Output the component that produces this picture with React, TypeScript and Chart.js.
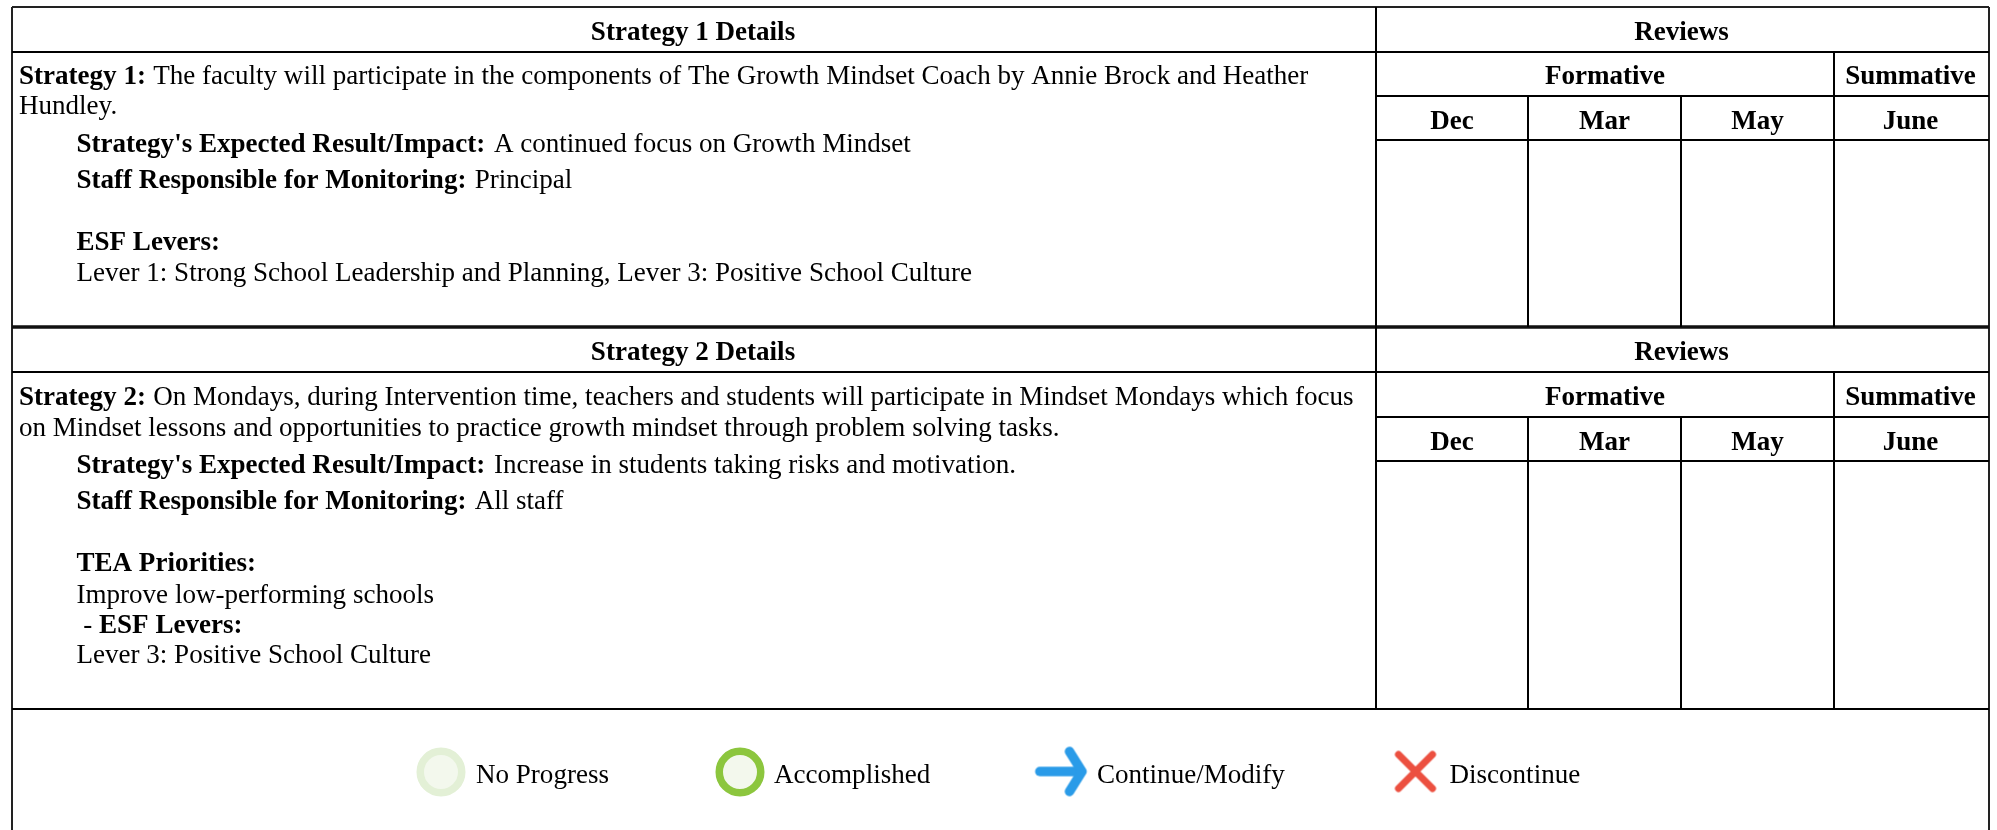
import React, { useEffect, useRef } from "react";
import { Chart, registerables } from "chart.js";

Chart.register(...registerables);

// ---- content ----
const strategyHeaders = ["Strategy 1 Details", "Strategy 2 Details"];
const reviewHeader = "Reviews";
const reviewGroups = ["Formative", "Summative"];
const reviewMonths = ["Dec", "Mar", "May", "June"];
const legendLabels = ["No Progress", "Accomplished", "Continue/Modify", "Discontinue"];

type Run = [string, boolean];
const strategyOneLines: Run[][] = [
  [["Strategy 1: ", true], ["The faculty will participate in the components of The Growth Mindset Coach by Annie Brock and Heather", false]],
  [["Hundley.", false]],
  [["Strategy's Expected Result/Impact: ", true], ["A continued focus on Growth Mindset", false]],
  [["Staff Responsible for Monitoring: ", true], ["Principal", false]],
  [["ESF Levers:", true]],
  [["Lever 1: Strong School Leadership and Planning, Lever 3: Positive School Culture", false]],
];
const strategyTwoLines: Run[][] = [
  [["Strategy 2: ", true], ["On Mondays, during Intervention time, teachers and students will participate in Mindset Mondays which focus", false]],
  [["on Mindset lessons and opportunities to practice growth mindset through problem solving tasks.", false]],
  [["Strategy's Expected Result/Impact: ", true], ["Increase in students taking risks and motivation.", false]],
  [["Staff Responsible for Monitoring: ", true], ["All staff", false]],
  [["TEA Priorities:", true]],
  [["Improve low-performing schools", false]],
  [[" - ", false], ["ESF Levers:", true]],
  [["Lever 3: Positive School Culture", false]],
];

// ---- table geometry, in the units of the two scales ----
const leftEdge = 12;
const detailEdge = 1376;
const monthEdges = [1376, 1528, 1681, 1834, 1989];
const tableRows = [
  { top: 7, head: 52, group: 96, month: 140, bottom: 327 },
  { top: 327, head: 372, group: 417, month: 461, bottom: 709 },
];
const pageBottom = 830;
const strategyOneIndents = [19, 19, 76.5, 76.5, 76.5, 76.5];
const strategyOneBaselines = [84, 114, 152, 188, 250, 281];
const strategyOneGaps = [0.5, 0, 2, 1.5, 0, 0];
const strategyTwoIndents = [19, 19, 76.5, 76.5, 76.5, 76.5, 76.5, 76.5];
const strategyTwoBaselines = [405, 436, 473, 509, 571, 603, 633, 663];
const strategyTwoGaps = [0.5, 0, 2, 1.5, 0, 0, 0, 0];
const legendMarkerX = [441, 740, 1061.5, 1415.5];
const legendMarkerY = [772, 772, 771.5, 771.5];
const legendLabelX = [476, 774, 1097, 1449.5];
const legendBaseline = 783;

const FONT = '"Liberation Serif", "Times New Roman", serif';
const SIZE = 27.06;

function rule(x1: number, y1: number, x2: number, y2: number, width = 2, color = "#000000") {
  return {
    data: [{ x: x1, y: y1 }, { x: x2, y: y2 }],
    showLine: true,
    borderColor: color,
    borderWidth: width,
    pointRadius: 0,
    fill: false,
  };
}

function buildRules() {
  const out: any[] = [];
  tableRows.forEach((r, i) => {
    out.push(rule(leftEdge, r.head, monthEdges[4], r.head));
    out.push(rule(detailEdge, r.group, monthEdges[4], r.group));
    out.push(rule(detailEdge, r.month, monthEdges[4], r.month));
    out.push(rule(detailEdge, r.top, detailEdge, r.bottom));
    out.push(rule(monthEdges[3], r.head, monthEdges[3], r.bottom));
    out.push(rule(monthEdges[1], r.group, monthEdges[1], r.bottom));
    out.push(rule(monthEdges[2], r.group, monthEdges[2], r.bottom));
    if (i === 0) out.push(rule(leftEdge, r.top, monthEdges[4], r.top, 2, "#222222"));
  });
  out.push(rule(leftEdge, tableRows[0].bottom, monthEdges[4], tableRows[0].bottom, 3.5, "#111111"));
  out.push(rule(leftEdge, tableRows[1].bottom, monthEdges[4], tableRows[1].bottom, 2));
  out.push(rule(leftEdge, tableRows[0].top, leftEdge, pageBottom, 2, "#222222"));
  out.push(rule(monthEdges[4], tableRows[0].top, monthEdges[4], pageBottom, 2, "#222222"));
  return out;
}

function iconCanvas(w: number, h: number, draw: (c: CanvasRenderingContext2D) => void) {
  const cv = document.createElement("canvas");
  cv.width = w;
  cv.height = h;
  const c = cv.getContext("2d")!;
  draw(c);
  return cv;
}

const textPlugin = {
  id: "tableText",
  afterDatasetsDraw(chart: any) {
    const { ctx, scales } = chart;
    const X = (v: number) => scales.x.getPixelForValue(v);
    const Y = (v: number) => scales.y.getPixelForValue(v);
    const set = (bold: boolean) => {
      ctx.font = `${bold ? "bold " : ""}${SIZE}px ${FONT}`;
    };
    ctx.save();
    ctx.fillStyle = "#000000";
    ctx.textBaseline = "alphabetic";

    const centered = (t: string, cx: number, y: number) => {
      set(true);
      ctx.textAlign = "center";
      ctx.fillText(t, X(cx), Y(y));
    };
    const runs = (line: Run[], x: number, y: number, gap = 0) => {
      ctx.textAlign = "left";
      let px = X(x);
      line.forEach(([t, b], k) => {
        set(b);
        ctx.fillText(t, px, Y(y));
        px += ctx.measureText(t).width + (k === 0 ? gap : 0);
      });
    };

    tableRows.forEach((r, i) => {
      const headY = r.head - 12;
      const groupY = r.group - 12;
      const monthY = r.month - 11;
      centered(strategyHeaders[i], (leftEdge + detailEdge) / 2 - 1, headY);
      centered(reviewHeader, (detailEdge + monthEdges[4]) / 2 - 1, headY);
      centered(reviewGroups[0], (monthEdges[0] + monthEdges[3]) / 2, groupY);
      centered(reviewGroups[1], (monthEdges[3] + monthEdges[4]) / 2 - 1, groupY);
      reviewMonths.forEach((m, k) =>
        centered(m, (monthEdges[k] + monthEdges[k + 1]) / 2 - (k === 3 ? 1 : 0), monthY)
      );
    });
    strategyOneLines.forEach((l, i) => runs(l, strategyOneIndents[i], strategyOneBaselines[i], strategyOneGaps[i]));
    strategyTwoLines.forEach((l, i) => runs(l, strategyTwoIndents[i], strategyTwoBaselines[i], strategyTwoGaps[i]));
    legendLabels.forEach((t, i) => runs([[t, false]], legendLabelX[i], legendBaseline));
    ctx.restore();
  },
};

export default function App() {
  const ref = useRef<HTMLCanvasElement>(null);
  useEffect(() => {
    const arrow = iconCanvas(56, 52, (c) => {
      c.strokeStyle = "#2A9BE8";
      c.lineWidth = 9.5;
      c.lineCap = "round";
      c.lineJoin = "round";
      c.beginPath();
      c.moveTo(6.3, 26);
      c.lineTo(48, 26);
      c.stroke();
      c.beginPath();
      c.moveTo(36, 6);
      c.lineTo(48.5, 26);
      c.lineTo(36, 46);
      c.stroke();
    });
    const cross = iconCanvas(44, 44, (c) => {
      c.strokeStyle = "#EC5040";
      c.lineWidth = 7;
      c.lineCap = "round";
      c.beginPath();
      c.moveTo(5, 5);
      c.lineTo(39, 39);
      c.moveTo(39, 5);
      c.lineTo(5, 39);
      c.stroke();
    });
    const chart = new Chart(ref.current!, {
      type: "scatter",
      data: {
        datasets: [
          ...buildRules(),
          {
            label: legendLabels[0],
            data: [{ x: legendMarkerX[0], y: legendMarkerY[0] }],
            pointStyle: "circle",
            pointRadius: 20.75,
            borderWidth: 7.5,
            borderColor: "#E3F0D6",
            backgroundColor: "#F3F8ED",
          },
          {
            label: legendLabels[1],
            data: [{ x: legendMarkerX[1], y: legendMarkerY[1] }],
            pointStyle: "circle",
            pointRadius: 20.75,
            borderWidth: 7.5,
            borderColor: "#8CC63E",
            backgroundColor: "#F3F8ED",
          },
          {
            label: legendLabels[2],
            data: [{ x: legendMarkerX[2], y: legendMarkerY[2] }],
            pointStyle: arrow,
            pointRadius: 26,
          },
          {
            label: legendLabels[3],
            data: [{ x: legendMarkerX[3], y: legendMarkerY[3] }],
            pointStyle: cross,
            pointRadius: 22,
          },
        ] as any,
      },
      options: {
        animation: false,
        responsive: false,
        events: [],
        layout: { padding: 0, autoPadding: false },
        scales: {
          x: { type: "linear", min: 0, max: 1997, display: false },
          y: { type: "linear", min: 0, max: 830, reverse: true, display: false },
        },
        plugins: { legend: { display: false }, tooltip: { enabled: false }, title: { display: false } },
        elements: { line: { tension: 0 } },
      },
      plugins: [textPlugin],
    } as any);
    return () => chart.destroy();
  }, []);
  return (
    <div style={{ position: "absolute", left: 0, top: 0, width: 1997, height: 830, background: "#ffffff" }}>
      <canvas ref={ref} width={1997} height={830} style={{ display: "block", width: 1997, height: 830 }} />
    </div>
  );
}
